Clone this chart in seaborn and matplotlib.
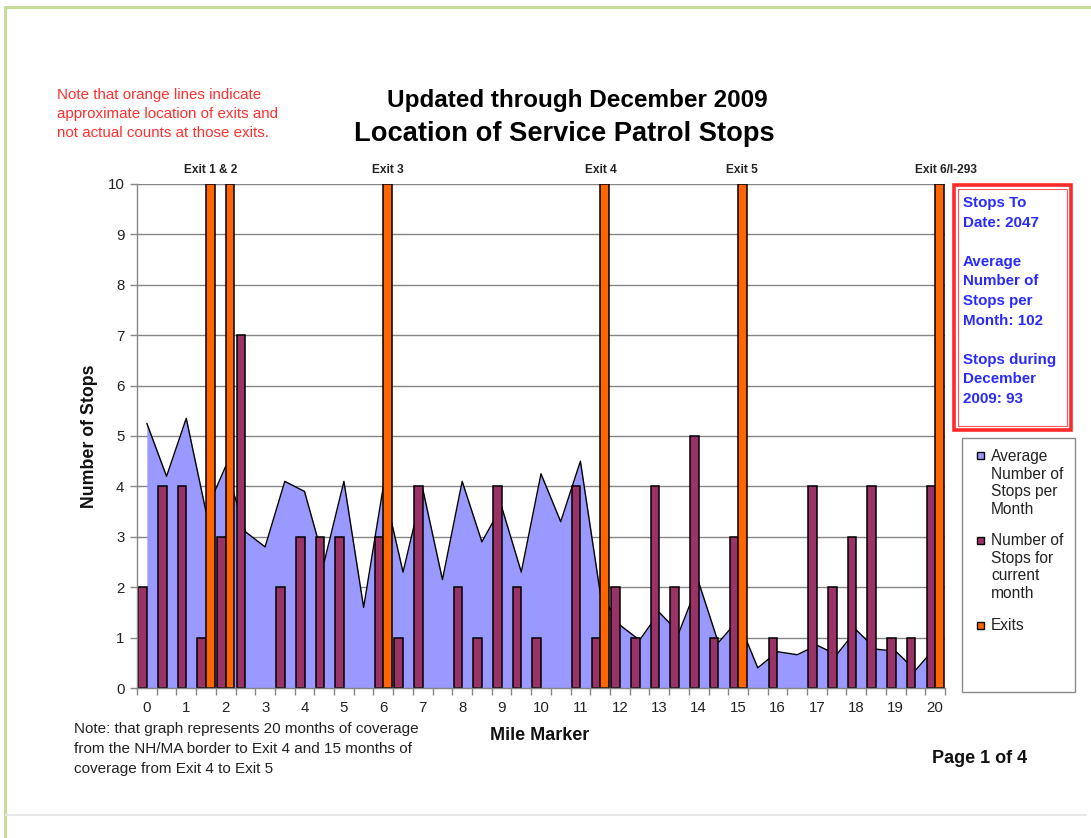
import matplotlib
matplotlib.use("Agg")
import matplotlib.pyplot as plt
from matplotlib.patches import Rectangle
from matplotlib.lines import Line2D
import numpy as np
import pandas as pd
import seaborn as sns

# %% -------------------------------------------------------------------
#                               data
# ----------------------------------------------------------------------
miles = [0, 0.5, 1, 1.5, 2, 2.5, 3, 3.5, 4, 4.5, 5, 5.5, 6, 6.5, 7, 7.5,
         8, 8.5, 9, 9.5, 10, 10.5, 11, 11.5, 12, 12.5, 13, 13.5, 14, 14.5,
         15, 15.5, 16, 16.5, 17, 17.5, 18, 18.5, 19, 19.5, 20]
avg_stops = [5.25, 4.2, 5.35, 3.5, 4.4, 3.1, 2.8, 4.1, 3.9, 2.5, 4.1, 1.6,
             4.0, 2.3, 3.95, 2.15, 4.1, 2.9, 3.6, 2.3, 4.25, 3.3, 4.5, 1.9,
             1.25, 0.95, 1.5, 1.1, 2.1, 0.9, 1.35, 0.4, 0.72, 0.66, 0.85,
             0.66, 1.15, 0.77, 0.73, 0.35, 0.8]
current_month = [2, 4, 4, 1, 3, 7, 0, 2, 3, 3, 3, 0, 3, 1, 4, 0, 2, 1, 4, 2,
                 1, 0, 4, 1, 2, 1, 4, 2, 5, 1, 3, 0, 1, 0, 4, 2, 3, 4, 1, 1, 4]
exit_miles = [1.5, 2, 6, 11.5, 15, 20]
exit_height = 10
exit_names = ["Exit 1 & 2", "Exit 3", "Exit 4", "Exit 5", "Exit 6/I-293"]
exit_name_miles = [1.5, 6, 11.5, 15, 20]

series_avg = "Average\nNumber of\nStops per\nMonth"
series_cur = "Number of\nStops for\ncurrent\nmonth"
series_exit = "Exits"

info_text = ("Stops To\nDate: 2047\n\nAverage\nNumber of\nStops per\n"
             "Month: 102\n\nStops during\nDecember\n2009: 93")

# colours (excel defaults)
c_area = "#9999ff"
c_cur = "#993366"
c_exit = "#ff6600"
c_grid = "#868686"

# %% -------------------------------------------------------------------
#                               frame
# ----------------------------------------------------------------------
sns.set_theme(style="white")
plt.rcParams["font.family"] = ["Liberation Sans", "DejaVu Sans"]

W, H = 1091, 838
fig = plt.figure(figsize=(W / 100, H / 100), dpi=100)
fig.patch.set_facecolor("white")
ax = fig.add_axes([137 / W, (H - 688) / H, 808 / W, 504 / H])

mile_labels = [f"{m:g}" for m in miles]
pos = np.arange(len(miles))

# area for average stops _______________________________________________
ax.fill_between(pos, avg_stops, color=c_area, lw=0, zorder=1)
sns.lineplot(x=pos, y=avg_stops, color="black", lw=1, ax=ax, zorder=2)

# bars: current month + exits __________________________________________
df = pd.DataFrame({"mile": mile_labels,
                   series_cur: current_month,
                   series_exit: [exit_height if m in exit_miles else 0 for m in miles]})
long_df = df.melt(id_vars="mile", var_name="series", value_name="stops")
long_df = long_df[long_df["stops"] > 0]
sns.barplot(data=long_df, x="mile", y="stops", hue="series",
            order=mile_labels, hue_order=[series_cur, series_exit],
            palette=[c_cur, c_exit], width=0.87, dodge=True, saturation=1,
            edgecolor="black", linewidth=1.1, errorbar=None, legend=False, ax=ax)
for p in ax.patches:
    p.set_zorder(3)

# axes styling _________________________________________________________
ax.set_xlim(-0.5, len(miles) - 0.5)
ax.set_ylim(0, 10)
ax.set_yticks(range(0, 11))
ax.set_xticks(pos[::2])
ax.set_xticklabels(mile_labels[::2])
ax.set_xticks(np.arange(-0.5, len(miles), 1), minor=True)
ax.tick_params(axis="x", which="major", length=0, pad=9, labelsize=10.8,
               labelcolor="#222222")
ax.tick_params(axis="x", which="minor", length=5, width=1, color=c_grid,
               direction="out", bottom=True)
ax.tick_params(axis="y", length=5, width=1, color=c_grid, direction="out",
               left=True, pad=4, labelsize=10.8, labelcolor="#222222")
ax.set_xlabel("")
ax.set_ylabel("")
ax.yaxis.grid(True, color=c_grid, lw=1, zorder=0)
ax.xaxis.grid(False)
ax.set_axisbelow(True)
for s in ["top", "right"]:
    ax.spines[s].set_visible(False)
for s in ["left", "bottom"]:
    ax.spines[s].set_color(c_grid)
    ax.spines[s].set_linewidth(1)
    ax.spines[s].set_zorder(4)

# exit labels over the plot
nudge = {20: 0.35, 11.5: -0.2}
for name, m in zip(exit_names, exit_name_miles):
    xi = mile_labels.index(f"{m:g}") + 0.215 + nudge.get(m, 0)
    ax.text(xi, 10.28, name, ha="center", va="center", fontsize=8.6,
            fontweight="bold", color="#222222", clip_on=False)

# %% -------------------------------------------------------------------
#                               texts
# ----------------------------------------------------------------------
fig.text(577 / W, 1 - 100 / H, "Updated through December 2009", ha="center",
         va="center", fontsize=17.5, fontweight="bold", color="black")
fig.text(564.5 / W, 1 - 134 / H, "Location of Service Patrol Stops",
         ha="center", va="center", fontsize=19.6, fontweight="bold",
         color="black")
fig.text(57 / W, 1 - 87.5 / H,
         "Note that orange lines indicate\napproximate location of exits and\n"
         "not actual counts at those exits.",
         ha="left", va="top", fontsize=10.9, color="#ff3030", linespacing=1.49)
fig.text(74 / W, 1 - 721.5 / H,
         "Note: that graph represents 20 months of coverage\n"
         "from the NH/MA border to Exit 4 and 15 months of\n"
         "coverage from Exit 4 to Exit 5",
         ha="left", va="top", fontsize=11, color="#222222", linespacing=1.56)
fig.text(540 / W, 1 - 735 / H, "Mile Marker", ha="center", va="center",
         fontsize=13, fontweight="bold", color="#111111")
fig.text(89 / W, 1 - 436 / H, "Number of Stops", ha="center", va="center",
         rotation=90, fontsize=12.8, fontweight="bold", color="#111111")
fig.text(980 / W, 1 - 758 / H, "Page 1 of 4", ha="center", va="center",
         fontsize=13, fontweight="bold", color="#111111")

# info box ______________________________________________________________
fig.add_artist(Rectangle((954 / W, 1 - 430 / H), 117 / W, 245 / H,
                         transform=fig.transFigure, fill=False,
                         edgecolor="#ff2a2a", lw=2.6))
fig.add_artist(Rectangle((958 / W, 1 - 426 / H), 109 / W, 237 / H,
                         transform=fig.transFigure, fill=False,
                         edgecolor="#ff5a5a", lw=0.8))
fig.text(963 / W, 1 - 196 / H, info_text, ha="left", va="top",
         fontsize=10.9, fontweight="bold", color="#2a2aff", linespacing=1.51)

# legend ________________________________________________________________
fig.add_artist(Rectangle((962 / W, 1 - 692 / H), 113 / W, 254 / H,
                         transform=fig.transFigure, fill=False,
                         edgecolor="#8a8a8a", lw=1))
for lab, col, yc in zip([series_avg, series_cur, series_exit],
                        [c_area, c_cur, c_exit], [456, 540, 625]):
    fig.add_artist(Rectangle((976.5 / W, 1 - (yc + 3.5) / H), 7 / W, 7 / H,
                             transform=fig.transFigure, facecolor=col,
                             edgecolor="black", lw=1))
    fig.text(991 / W, 1 - (yc - 7) / H, lab, ha="left", va="top",
             fontsize=11.2, color="#222222", linespacing=1.22)

# page border ___________________________________________________________
fig.add_artist(Line2D([5 / W, 5 / W], [0, 1 - 7 / H], transform=fig.transFigure,
                      color="#c8dc9a", lw=2.2))
fig.add_artist(Line2D([5 / W, 1], [1 - 7 / H, 1 - 7 / H],
                      transform=fig.transFigure, color="#c8dc9a", lw=2.2))
fig.add_artist(Line2D([6 / W, 1086 / W], [1 - 815 / H, 1 - 815 / H],
                      transform=fig.transFigure, color="#e8e8e8", lw=1.5))

fig.savefig("out.png", dpi=100)
plt.close("all")
